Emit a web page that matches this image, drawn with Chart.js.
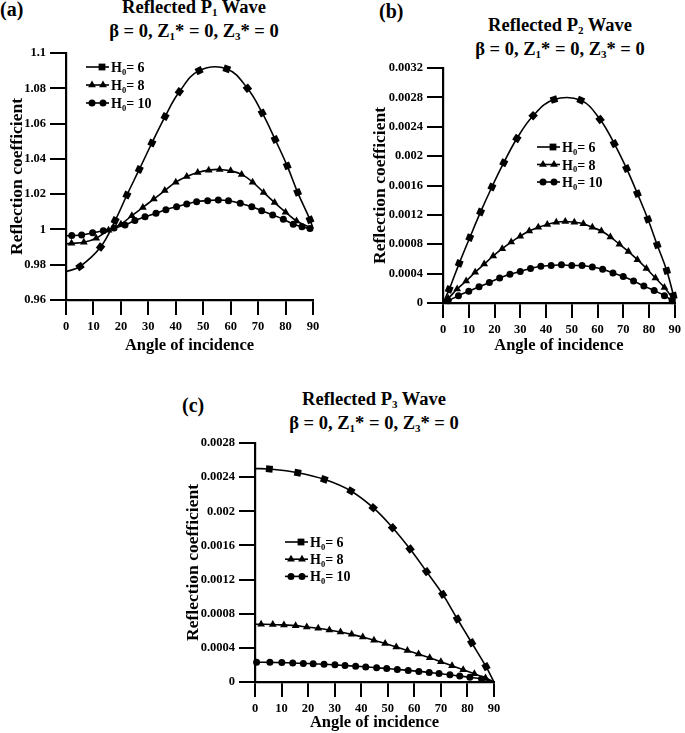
<!DOCTYPE html>
<html><head><meta charset="utf-8">
<script src="https://cdn.jsdelivr.net/npm/chart.js@4.4.1/dist/chart.umd.min.js"></script>
<style>
body{margin:0;background:#fff;}
#wrap{position:relative;width:685px;height:733px;overflow:hidden;background:#fff;font-family:"Liberation Serif","Times New Roman",serif;font-weight:bold;color:#000;}
canvas{position:absolute;}
.ttl{position:absolute;width:300px;text-align:center;font-size:18.5px;line-height:24px;white-space:nowrap;}
.ttl sub{font-size:11px;line-height:0;vertical-align:-3px;}
.lbl{position:absolute;font-size:20px;line-height:20px;}
</style></head><body><div id="wrap">
<div class="lbl" style="left:0px;top:-1px">(a)</div>
<div class="ttl" style="left:44px;top:-5px">Reflected P<sub>1</sub> Wave<br>β = 0, Z<sub>1</sub>* = 0, Z<sub>3</sub>* = 0</div>
<div class="lbl" style="left:379px;top:1px">(b)</div>
<div class="ttl" style="left:410px;top:13px">Reflected P<sub>2</sub> Wave<br>β = 0, Z<sub>1</sub>* = 0, Z<sub>3</sub>* = 0</div>
<div class="lbl" style="left:182px;top:395px">(c)</div>
<div class="ttl" style="left:224px;top:387px">Reflected P<sub>3</sub> Wave<br>β = 0, Z<sub>1</sub>* = 0, Z<sub>3</sub>* = 0</div>
<canvas id="ca" width="330" height="320" style="left:0px;top:40px"></canvas>
<canvas id="cb" width="345" height="320" style="left:340px;top:40px"></canvas>
<canvas id="cc" width="340" height="303" style="left:170px;top:430px"></canvas>
</div>
<script>
// ---------- data ----------
const xTicks = [0, 10, 20, 30, 40, 50, 60, 70, 80, 90];
const xTickLabels = ["0", "10", "20", "30", "40", "50", "60", "70", "80", "90"];
const h0Values = ["6", "8", "10"];

// (a) Reflected P1
const aYTicks = [0.96, 0.98, 1, 1.02, 1.04, 1.06, 1.08, 1.1];
const aYTickLabels = ["0.96", "0.98", "1", "1.02", "1.04", "1.06", "1.08", "1.1"];
const aAng6 = [0, 5.1, 12.6, 17.9, 22.2, 26.7, 31.3, 36.1, 41.3, 48.5, 58.6, 66.1, 71.5, 76.2, 80.6, 84.4, 88.9, 90];
const aVal6 = [0.976, 0.979, 0.990, 1.005, 1.0195, 1.034, 1.049, 1.064, 1.078, 1.090, 1.091, 1.080, 1.066, 1.051, 1.036, 1.021, 1.0055, 1.0005];
const aAng8 = [0, 2, 6.5, 11, 15.5, 20, 24, 28, 32, 36, 40, 44, 48, 52, 56, 60, 64, 68, 72, 76, 80, 84, 90];
const aVal8 = [0.9918, 0.9921, 0.9927, 0.995, 0.9996, 1.003, 1.0078, 1.0125, 1.0172, 1.022, 1.0268, 1.03, 1.0323, 1.0336, 1.034, 1.0332, 1.0312, 1.0268, 1.021, 1.0152, 1.0098, 1.0048, 1.0005];
const aAng10 = [0, 2.1, 5.7, 9.7, 13.6, 17.5, 21.5, 25.1, 28.8, 32.8, 36.4, 40.3, 44, 47.6, 51.6, 55.5, 59.2, 63.5, 67.7, 71.3, 75.3, 79.2, 82.8, 86, 88.9, 90];
const aVal10 = [0.9964, 0.9965, 0.9968, 0.9981, 0.9993, 1.0008, 1.0025, 1.005, 1.0072, 1.0091, 1.0112, 1.0129, 1.0144, 1.0157, 1.0163, 1.0167, 1.0163, 1.0148, 1.0129, 1.0106, 1.0082, 1.0057, 1.003, 1.0015, 1.0005, 1.0002];

// (b) Reflected P2
const bYTicks = [0, 0.0004, 0.0008, 0.0012, 0.0016, 0.002, 0.0024, 0.0028, 0.0032];
const bYTickLabels = ["0", "0.0004", "0.0008", "0.0012", "0.0016", "0.002", "0.0024", "0.0028", "0.0032"];
const bAng6 = [0, 2.4, 6.3, 10.4, 14.6, 19.0, 23.6, 28.7, 35.0, 43.1, 53.5, 61.0, 66.5, 71.3, 75.5, 79.6, 83.2, 86.9, 89.5, 90];
const bVal6 = [0, 0.000186, 0.00054, 0.00089, 0.00124, 0.00158, 0.00191, 0.00224, 0.00255, 0.00277, 0.00276, 0.0025, 0.00217, 0.00183, 0.00149, 0.00114, 0.00079, 0.00044, 0.0001, 0];
const bAng8 = [0, 2, 5.5, 9, 12.5, 16, 19.5, 23, 26.5, 30, 33.5, 37, 40.5, 44, 47.5, 51, 54.5, 58, 61.5, 65, 68.5, 72, 75.5, 79, 82.5, 86, 89, 90];
const bVal8 = [0, 0.00006, 0.00019, 0.0003, 0.00042, 0.00053, 0.00064, 0.00074, 0.00083, 0.00091, 0.00098, 0.00103, 0.00107, 0.0011, 0.00111, 0.0011, 0.00108, 0.00103, 0.00098, 0.0009, 0.0008, 0.0007, 0.00059, 0.00047, 0.00034, 0.00021, 0.00007, 0];
const bAng10 = [0, 2, 6, 10, 14, 18, 22, 26, 30, 34, 38, 42, 46, 50, 54, 58, 62, 66, 70, 74, 78, 82, 86, 89, 90];
const bVal10 = [0, 0.00003, 0.0001, 0.00016, 0.00022, 0.00028, 0.00034, 0.00039, 0.00043, 0.00047, 0.0005, 0.00051, 0.00052, 0.00051, 0.00051, 0.00049, 0.00046, 0.00041, 0.00036, 0.0003, 0.00023, 0.00017, 0.0001, 0.00003, 0];

// (c) Reflected P3
const cYTicks = [0, 0.0004, 0.0008, 0.0012, 0.0016, 0.002, 0.0024, 0.0028];
const cYTickLabels = ["0", "0.0004", "0.0008", "0.0012", "0.0016", "0.002", "0.0024", "0.0028"];
const cAng6 = [0, 5.4, 16.1, 26.1, 36.1, 44.5, 51.8, 58.4, 64.6, 70.7, 76.2, 81.6, 87, 90];
const cVal6 = [0.0025, 0.002495, 0.002452, 0.002374, 0.002238, 0.002042, 0.001808, 0.001558, 0.001293, 0.001027, 0.000738, 0.00046, 0.00018, 0];
const cAng8 = [0, 2.3, 6.7, 10.9, 15.3, 19.5, 23.8, 28.0, 32.2, 36.4, 40.6, 44.8, 49, 53.2, 57.4, 61.6, 65.8, 70, 74.2, 78.4, 82.6, 86.8, 90];
const cVal8 = [0.000676, 0.000676, 0.000674, 0.000668, 0.00066, 0.000644, 0.000629, 0.000609, 0.000585, 0.000558, 0.000527, 0.00049, 0.00045, 0.00041, 0.00037, 0.000327, 0.000283, 0.000238, 0.000191, 0.000143, 0.000096, 0.000048, 0];
const cAng10 = [0.6, 5.6, 10.1, 14.2, 18.2, 21.9, 26.0, 30.1, 33.9, 37.9, 41.7, 45.8, 49.6, 53.6, 57.7, 61.7, 65.6, 69.3, 73.4, 77.1, 80.9, 85.3, 90];
const cVal10 = [0.000232, 0.00023, 0.000227, 0.000223, 0.000218, 0.000214, 0.000207, 0.000201, 0.000193, 0.000185, 0.000177, 0.000167, 0.000158, 0.000147, 0.000136, 0.000124, 0.000112, 0.000099, 0.000084, 0.00007, 0.000055, 0.000035, 0];

// ---------- drawing ----------
const FONT = '"Liberation Serif", "Times New Roman", serif';
const STYLES = ['rect', 'triangle', 'circle'];
const RADII = [4.8, 4.5, 3.5];

function pts(ang, val) { return ang.map((a, i) => ({ x: a, y: val[i] })); }

function drawMarker(ctx, style, x, y, r) {
  ctx.beginPath();
  if (style === 'rect') {
    const s = r * Math.SQRT1_2;
    ctx.rect(x - s, y - s, 2 * s, 2 * s);
  } else if (style === 'triangle') {
    ctx.moveTo(x, y - r);
    ctx.lineTo(x + r * 0.866, y + r * 0.5);
    ctx.lineTo(x - r * 0.866, y + r * 0.5);
    ctx.closePath();
  } else {
    ctx.arc(x, y, r, 0, Math.PI * 2);
  }
  ctx.fill();
}

const subLegend = {
  id: 'subLegend',
  afterDatasetsDraw(chart, args, opts) {
    const ctx = chart.ctx;
    ctx.save();
    chart.data.datasets.forEach((ds, i) => {
      const y = opts.y + i * opts.gap;
      const x0 = opts.x, x1 = opts.x + 23;
      ctx.strokeStyle = '#000'; ctx.fillStyle = '#000'; ctx.lineWidth = 1.6;
      ctx.beginPath(); ctx.moveTo(x0, y); ctx.lineTo(x1, y); ctx.stroke();
      const marks = i === 0 ? [x0 + 16] : [x0 + 6, x0 + 17];
      marks.forEach(mx => drawMarker(ctx, STYLES[i], mx, y, RADII[i]));
      ctx.textBaseline = 'alphabetic'; ctx.textAlign = 'left';
      let tx = x1 + 2; const base = y + 5;
      ctx.font = 'bold 14px ' + FONT;
      ctx.fillText('H', tx, base); tx += ctx.measureText('H').width;
      ctx.font = 'bold 8.5px ' + FONT;
      ctx.fillText('0', tx, base + 2.5); tx += ctx.measureText('0').width;
      ctx.font = 'bold 14px ' + FONT;
      ctx.fillText('= ' + h0Values[i], tx, base);
    });
    ctx.restore();
  }
};

function segRotation(c) {
  const chart = c.chart, data = c.dataset.data, i = c.dataIndex;
  const xs = chart.scales.x, ys = chart.scales.y;
  if (!xs || !ys || !data || data.length < 2) return 0;
  const a = data[Math.max(0, i - 1)], b = data[Math.min(data.length - 1, i + 1)];
  const dx = xs.getPixelForValue(b.x) - xs.getPixelForValue(a.x);
  const dy = ys.getPixelForValue(b.y) - ys.getPixelForValue(a.y);
  return Math.atan2(dy, dx) * 180 / Math.PI;
}

function makeChart(id, p) {
  const datasets = p.series.map((s, k) => ({
    label: 'H0= ' + h0Values[k],
    data: pts(s[0], s[1]),
    borderColor: '#000', backgroundColor: '#000', borderWidth: 1.6,
    pointStyle: STYLES[k],
    pointRadius: c => { const v = c.raw; return (v && (v.x === 0 || v.x === 90)) ? 0 : RADII[k]; },
    pointRotation: k === 0 ? segRotation : 0,
    pointBorderWidth: 0,
    pointBackgroundColor: '#000',
    tension: 0.4, clip: false
  }));
  return new Chart(document.getElementById(id), {
    type: 'line',
    data: { datasets },
    plugins: [subLegend],
    options: {
      responsive: false, animation: false, devicePixelRatio: 1,
      layout: { padding: p.pad },
      plugins: { legend: { display: false }, tooltip: { enabled: false }, subLegend: p.legend },
      scales: {
        x: {
          type: 'linear', min: 0, max: 90,
          afterBuildTicks: s => { s.ticks = xTicks.map(v => ({ value: v })); },
          afterFit: s => { s.height = p.xh; },
          ticks: { callback: (v, i) => xTickLabels[i], color: '#000', font: { family: FONT, size: 12.5, weight: 'bold' }, padding: 4, maxRotation: 0, autoSkip: false },
          grid: { display: true, drawOnChartArea: false, drawTicks: true, tickLength: 15, color: '#000', lineWidth: 2 },
          border: { display: true, color: '#000', width: 2.2 },
          title: { display: true, text: 'Angle of incidence', color: '#000', font: { family: FONT, size: 16.5, weight: 'bold' }, padding: p.xtp }
        },
        y: {
          type: 'linear', min: p.yTicks[0], max: p.yTicks[p.yTicks.length - 1],
          afterBuildTicks: s => { s.ticks = p.yTicks.map(v => ({ value: v })); },
          afterFit: s => { s.width = p.yw; },
          ticks: { callback: (v, i) => p.yLabels[i], color: '#000', font: { family: FONT, size: 12.5, weight: 'bold' }, padding: 4, autoSkip: false },
          grid: { display: true, drawOnChartArea: false, drawTicks: true, tickLength: 16, color: '#000', lineWidth: 2 },
          border: { display: true, color: '#000', width: 2.2 },
          title: { display: true, text: 'Reflection coefficient', color: '#000', font: { family: FONT, size: 17.5, weight: 'bold' }, padding: { top: 4, bottom: 4 } }
        }
      }
    }
  });
}

makeChart('ca', {
  series: [[aAng6, aVal6], [aAng8, aVal8], [aAng10, aVal10]],
  yTicks: aYTicks, yLabels: aYTickLabels,
  pad: { left: 3, top: 13, right: 17, bottom: 0 }, yw: 63, xh: 60,
  xtp: { top: 4, bottom: 4 },
  legend: { x: 86, y: 27, gap: 18 }
});
makeChart('cb', {
  series: [[bAng6, bVal6], [bAng8, bVal8], [bAng10, bVal10]],
  yTicks: bYTicks, yLabels: bYTickLabels,
  pad: { left: 26, top: 28, right: 8, bottom: 0 }, yw: 77, xh: 57,
  xtp: { top: 4, bottom: 4 },
  legend: { x: 197, y: 107, gap: 17.5 }
});
makeChart('cc', {
  series: [[cAng6, cVal6], [cAng8, cVal8], [cAng10, cVal10]],
  yTicks: cYTicks, yLabels: cYTickLabels,
  pad: { left: 9, top: 13, right: 16, bottom: 0 }, yw: 76, xh: 51,
  xtp: { top: 0, bottom: 0 },
  legend: { x: 115, y: 112, gap: 17.2 }
});
</script>
</body></html>
